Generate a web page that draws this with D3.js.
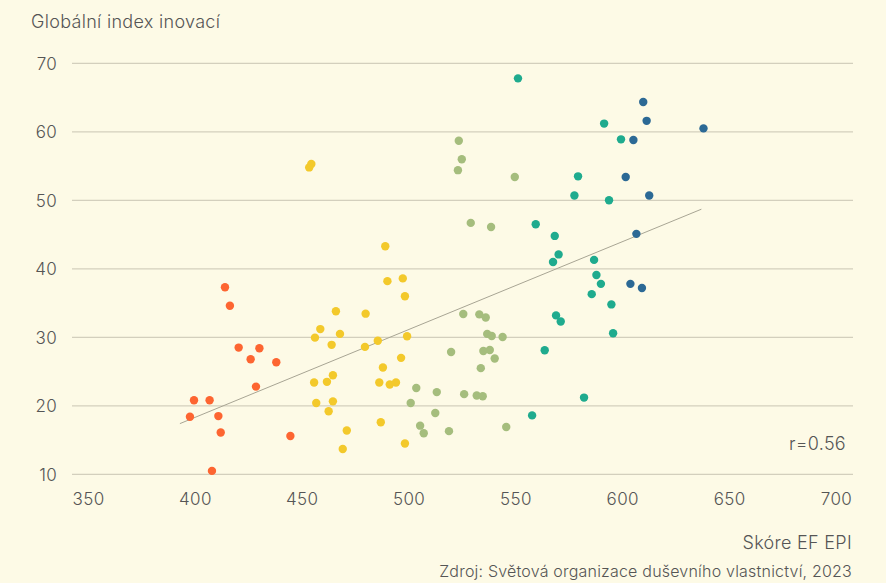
<!DOCTYPE html>
<html>
<head>
<meta charset="utf-8">
<script src="https://cdn.jsdelivr.net/npm/d3@7"></script>
<style>
  body { margin: 0; background: #fdfae6; }
  svg { display: block; }
</style>
</head>
<body>
<div id="chart"></div>
<script>
// skupiny bodů [EF EPI, GII]
var oranzova = [
  [414.1, 37.3], [416.4, 34.6], [420.5, 28.5], [430.2, 28.4], [426.1, 26.8],
  [438.1, 26.35], [428.6, 22.8], [399.6, 20.8], [406.9, 20.8], [397.7, 18.4],
  [411.0, 18.5], [412.1, 16.1], [444.7, 15.6], [408.0, 10.5]
];
var zluta = [
  [489.1, 43.3], [490.1, 38.2], [497.3, 38.6], [498.3, 36.0], [466.0, 33.8],
  [479.9, 33.45], [458.7, 31.2], [456.2, 29.95], [467.9, 30.5], [464.0, 28.9],
  [499.3, 30.15], [485.6, 29.5], [479.6, 28.6], [496.5, 27.0], [488.0, 25.6],
  [464.6, 24.45], [455.8, 23.4], [461.8, 23.5], [486.3, 23.4], [491.2, 23.1],
  [494.1, 23.4], [456.8, 20.4], [464.6, 20.65], [462.6, 19.2], [487.0, 17.6],
  [471.1, 16.4], [469.2, 13.7], [498.3, 14.5], [453.5, 54.8], [454.5, 55.3]
];
var zelena = [
  [523.5, 58.7], [524.9, 56.0], [523.1, 54.4], [549.7, 53.4], [529.1, 46.7],
  [538.6, 46.1], [525.6, 33.4], [533.1, 33.35], [536.1, 32.9], [536.8, 30.5],
  [538.9, 30.2], [544.0, 30.05], [519.9, 27.85], [535.0, 28.0], [538.0, 28.15],
  [540.3, 26.9], [533.8, 25.5], [503.6, 22.6], [513.2, 22.0], [501.0, 20.4],
  [512.5, 18.95], [505.4, 17.1], [507.1, 16.0], [518.9, 16.3], [526.0, 21.7],
  [531.9, 21.5], [534.7, 21.4], [545.7, 16.9]
];
var tyrkysova = [
  [551.2, 67.8], [591.5, 61.2], [599.4, 58.9], [579.3, 53.5], [577.6, 50.7],
  [593.8, 50.0], [559.5, 46.5], [568.4, 44.8], [570.2, 42.1], [567.6, 41.0],
  [586.8, 41.3], [587.9, 39.1], [590.0, 37.8], [585.7, 36.3], [594.9, 34.8],
  [569.0, 33.2], [571.2, 32.3], [595.7, 30.6], [563.7, 28.1], [582.1, 21.2],
  [557.8, 18.6]
];
var modra = [
  [609.8, 64.35], [611.4, 61.6], [605.2, 58.8], [638.0, 60.5], [601.6, 53.4],
  [612.6, 50.7], [606.6, 45.1], [603.8, 37.8], [609.2, 37.2]
];
var trend = [[393, 17.4], [637, 48.7]];
var xTicks = [350, 400, 450, 500, 550, 600, 650, 700];
var yTicks = [10, 20, 30, 40, 50, 60, 70];

var skupiny = [
  { data: oranzova, barva: "#fd6531" },
  { data: zluta, barva: "#f3c92b" },
  { data: zelena, barva: "#a5bd7d" },
  { data: tyrkysova, barva: "#1fab8e" },
  { data: modra, barva: "#2c6995" }
];

var w = 886;
var h = 583;
var font = "Inter, 'Open Sans', sans-serif";
var seda = "#555";

var svg = d3.select("#chart")
            .append("svg")
            .attr("width", w)
            .attr("height", h);

svg.append("rect").attr("width", w).attr("height", h).attr("fill", "#fdfae6");

var x = d3.scaleLinear().domain([350, 700]).range([88, 836]);
var y = d3.scaleLinear().domain([10, 70]).range([474.3, 63.3]);

// mřížka
svg.append("g")
   .selectAll("line")
   .data(yTicks)
   .enter()
   .append("line")
   .attr("x1", 72)
   .attr("x2", 853)
   .attr("y1", function(d) { return y(d); })
   .attr("y2", function(d) { return y(d); })
   .attr("stroke", "#d3cfbd")
   .attr("stroke-width", 1.2);

// osa y
var yAxis = svg.append("g")
   .attr("transform", "translate(57,0)")
   .call(d3.axisLeft(y).tickValues(yTicks).tickSize(0).tickPadding(0));
yAxis.select(".domain").remove();
yAxis.selectAll("text")
     .attr("font-family", font)
     .attr("font-size", "17px")
     .attr("font-weight", 300)
     .attr("letter-spacing", "0.3px")
     .attr("fill", seda)
     .attr("dy", "0.35em");

// osa x
var xAxis = svg.append("g")
   .attr("transform", "translate(0,493)")
   .call(d3.axisBottom(x).tickValues(xTicks).tickSize(0).tickPadding(0));
xAxis.select(".domain").remove();
xAxis.selectAll("text")
     .attr("font-family", font)
     .attr("font-size", "17px")
     .attr("font-weight", 300)
     .attr("letter-spacing", "0.4px")
     .attr("fill", seda);

// trend
svg.append("line")
   .attr("x1", x(trend[0][0]))
   .attr("y1", y(trend[0][1]))
   .attr("x2", x(trend[1][0]))
   .attr("y2", y(trend[1][1]))
   .attr("stroke", "#a8a594")
   .attr("stroke-width", 1);

// body
skupiny.forEach(function(s) {
  svg.append("g")
     .selectAll("circle")
     .data(s.data)
     .enter()
     .append("circle")
     .attr("cx", function(d) { return x(d[0]); })
     .attr("cy", function(d) { return y(d[1]); })
     .attr("r", 4.2)
     .attr("fill", s.barva);
});

// texty
function popisek(t, px, py, kotva, vel, mezera) {
  svg.append("text")
     .text(t)
     .attr("x", px)
     .attr("y", py)
     .attr("text-anchor", kotva)
     .attr("font-family", font)
     .attr("font-size", vel)
     .attr("font-weight", 300)
     .attr("letter-spacing", mezera)
     .attr("fill", seda);
}

popisek("Globální index inovací", 31, 28, "start", "18px", "0.3px");
popisek("r=0.56", 846, 450, "end", "18px", "0.3px");
popisek("Skóre EF EPI", 852, 549, "end", "18px", "0.3px");
popisek("Zdroj: Světová organizace duševního vlastnictví, 2023", 852, 577, "end", "16px", "0.2px");
</script>
</body>
</html>
